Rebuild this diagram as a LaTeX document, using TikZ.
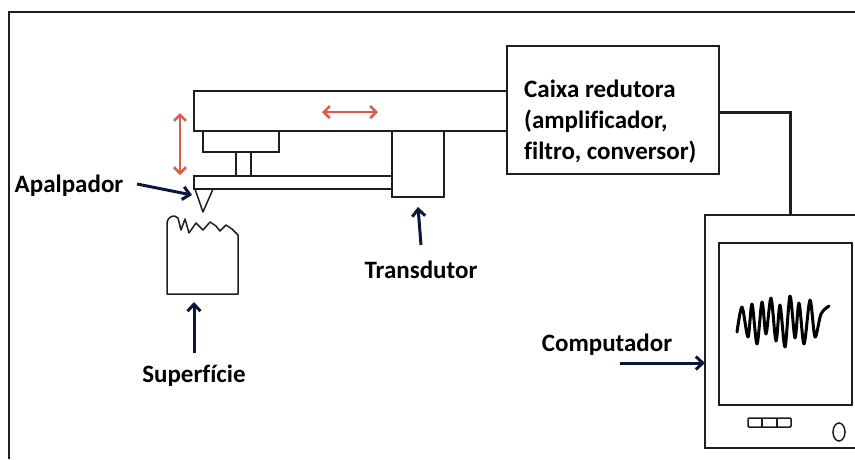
\documentclass[tikz,border=0pt]{standalone}
\usepackage{fontspec}
\setmainfont{Carlito}[Ligatures=NoCommon]
\usetikzlibrary{arrows.meta,shapes.geometric}
\definecolor{ink}{RGB}{30,30,34}
\definecolor{navy}{RGB}{12,22,60}
\definecolor{motion}{RGB}{222,90,72}
\begin{document}
\begin{tikzpicture}[x=1pt,y=-1pt,
  part/.style={draw=ink,line width=1.5pt,rectangle,inner sep=0pt,anchor=center},
  lbl/.style={font=\bfseries\fontsize{25}{31}\selectfont,text=black,inner sep=0pt},
  pointer/.style={draw=navy,line width=3pt,-{Straight Barb[length=7pt,width=13pt,line width=3pt]}},
  movearrow/.style={draw=motion,line width=2.5pt,{Straight Barb[length=6pt,width=12pt,line width=2.5pt]}-{Straight Barb[length=6pt,width=12pt,line width=2.5pt]}}]
\useasboundingbox (0,0) rectangle (855,459);

% outer frame (top and left edges)
\draw[ink,line width=2.2pt] (9,459) -- (9,12) -- (855,12);

% signal box
\node[part,minimum width=212pt,minimum height=128pt] (caixa) at (613,110) {};
\node[lbl,align=left,anchor=north west] (caixatxt) at (524,80)
  {Caixa redutora\\(amplificador,\\filtro, conversor)};

% upper beam
\draw[ink,line width=1.5pt] (caixa.west |- 0,91) -- (194,91) -- (194,131) -- (caixa.west |- 0,131);
\node[part,minimum width=76pt,minimum height=21pt] (plate) at (241,141.5) {};
\node[part,minimum width=15pt,minimum height=24pt] (stem) at (243.5,164) {};
\node[part,minimum width=198pt,minimum height=13pt] (arm) at (293,182.5) {};
\node[part,minimum width=52pt,minimum height=66pt] (transd) at (418,164) {};

% stylus tip
\coordinate (tipL) at (195,189);
\coordinate (tipR) at (213,189);
\coordinate (tip) at (203,212);
\draw[ink,line width=1.5pt,line join=round] (tipL) -- (tip) -- (tipR);

% sample surface
\draw[ink,line width=1.5pt,line join=round] (167,294) -- (167,223) .. controls (168,216) and (174,214) .. (178,218)
  -- (181,230) -- (185,219) -- (189,233) -- (196,223) -- (203,230) -- (210,222) -- (216,226)
  -- (220,231) -- (226,225) -- (232,229) -- (238,235) -- (238,294) -- cycle;
\coordinate (surf) at (194,302);

% motion arrows
\coordinate (vtop) at (180,113);
\coordinate (vbot) at (180,175);
\draw[movearrow] (vtop) -- (vbot);
\coordinate (hl) at (322,112);
\coordinate (hr) at (378,112);
\draw[movearrow] (hl) -- (hr);

% labels with pointers
\node[lbl] (apal) at (69,186) {Apalpador};
\coordinate (apalend) at (192,195);
\draw[pointer] (137,184) -- (apalend);

\node[lbl] (transdtxt) at (421,270) {Transdutor};
\draw[pointer] (transdtxt.north |- 0,245) -- (transd.south |- 0,207);

\node[lbl] (superf) at (194,376) {Superfície};
\draw[pointer] (surf |- 0,353) -- (surf);

% computer
\coordinate (monTL) at (705,215);
\coordinate (monBL) at (705,448);
\draw[ink,line width=1.5pt] (855,215) -- (monTL) -- (monBL) -- (855,448);
\node[part,minimum width=133pt,minimum height=162pt] (screen) at (785.5,324) {};
\node[part,minimum width=43pt,minimum height=9pt,rounded corners=1pt] (keys) at (769.5,422.5) {};
\draw[ink,line width=1.3pt] (762,418) -- (762,427) (777,418) -- (777,427);
\node[draw=ink,line width=1.5pt,ellipse,minimum width=12pt,minimum height=18pt,inner sep=0pt] (power) at (839,432) {};

\node[lbl] (comptxt) at (607,345) {Computador};
\draw[pointer] (620,363) -- (monTL |- 0,363);

% link from signal box to computer
\draw[ink,line width=3pt] (caixa.east |- 0,112) -| (790,215);

% measured profile
\draw[black,line width=3pt,line join=round,line cap=round] plot[smooth,tension=0.5] coordinates {
  (737,332) (742,307) (748,337) (752,304) (757,344) (762,302) (766,334) (771,298)
  (776,341) (780,305) (785,347) (790,296) (795,338) (799,303) (804,344) (810,300)
  (815,337) (821,314) (829,306)};
\end{tikzpicture}
\end{document}
